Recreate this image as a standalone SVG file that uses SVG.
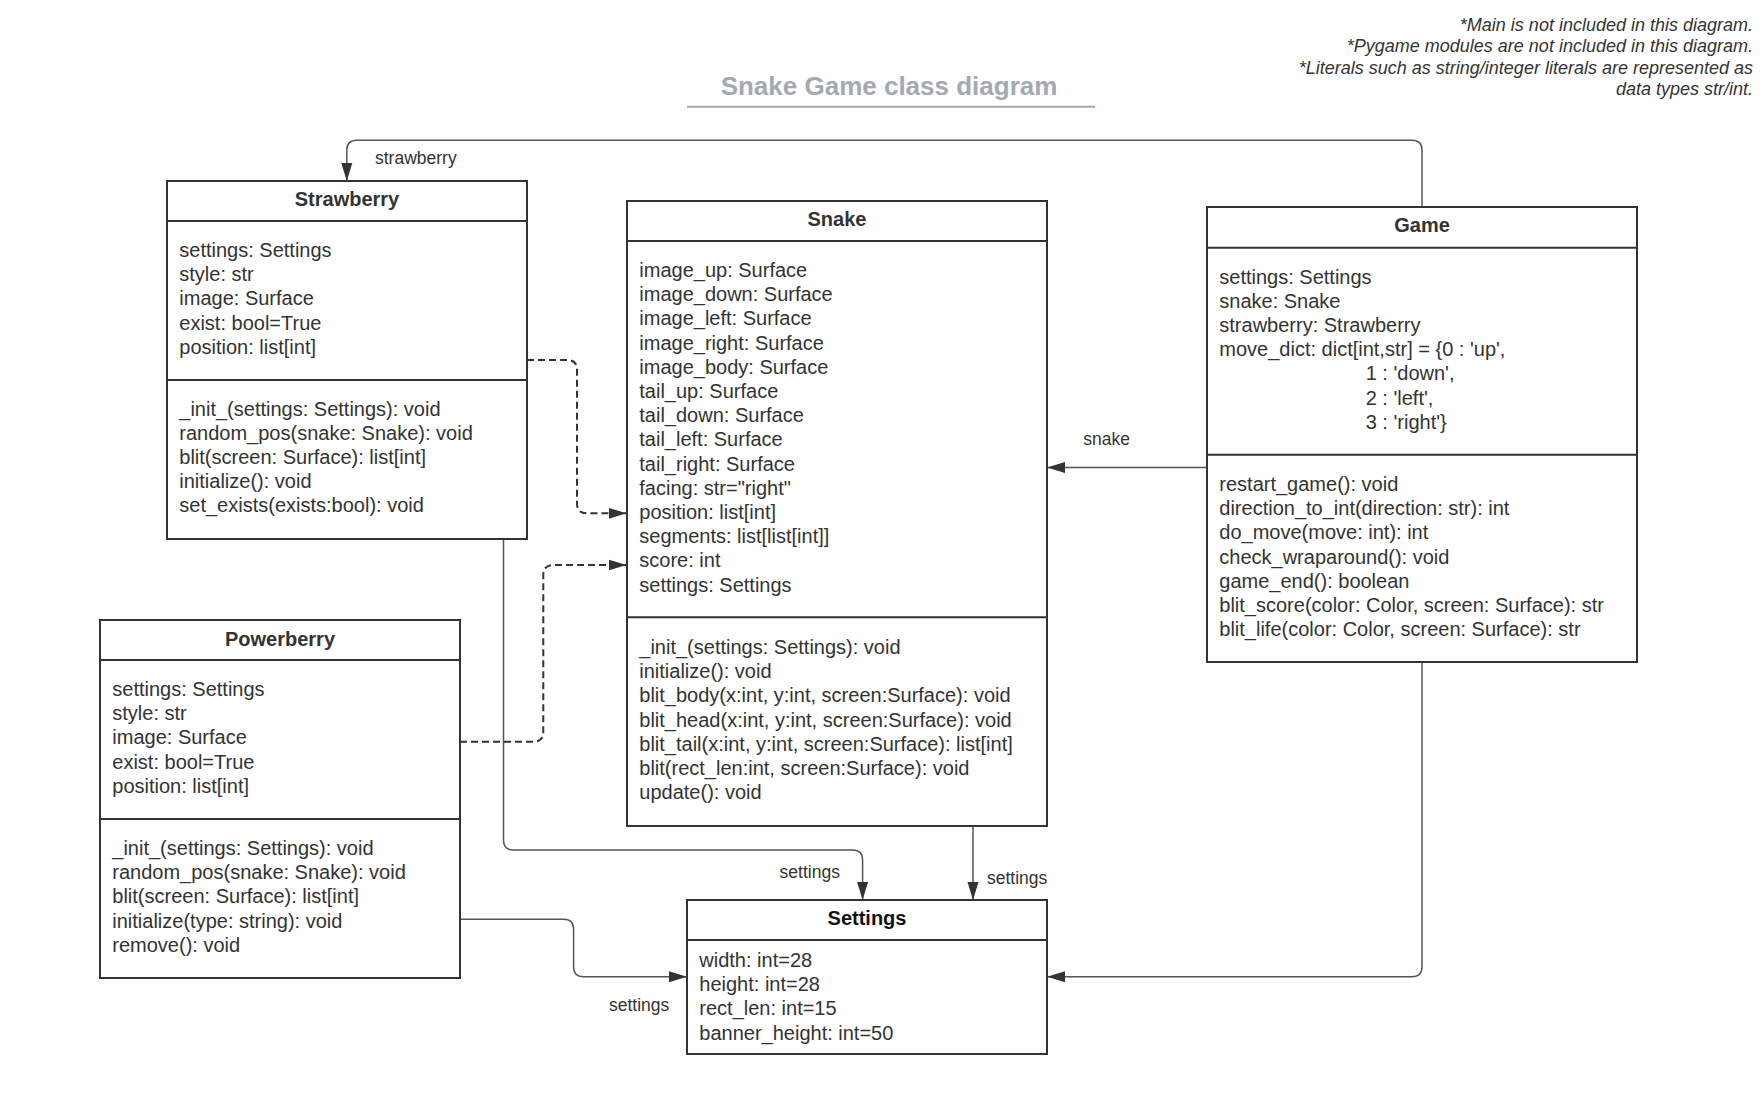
<svg xmlns="http://www.w3.org/2000/svg" width="1760" height="1096" viewBox="0 0 1760 1096">
<style>
.box{fill:#ffffff;stroke:#333333;stroke-width:2}
.sep{stroke:#333333;stroke-width:2}
.hd{font-family:"Liberation Sans",Arial,sans-serif;font-size:20px;font-weight:bold;fill:#333333;text-anchor:middle}
.tx{font-family:"Liberation Sans",Arial,sans-serif;font-size:20px;fill:#333333}
.lb{font-family:"Liberation Sans",Arial,sans-serif;font-size:17.5px;fill:#333333}
.note{font-family:"Liberation Sans",Arial,sans-serif;font-size:18px;font-style:italic;fill:#333333;text-anchor:end}
.sol{fill:none;stroke:#555555;stroke-width:1.5}
.dash{fill:none;stroke:#333333;stroke-width:2;stroke-dasharray:7 4}
</style>
<defs>
<marker id="arr" markerUnits="userSpaceOnUse" markerWidth="18" markerHeight="12" refX="18" refY="6" orient="auto">
<path d="M0,0.5 L18,6 L0,11.5 z" fill="#333333"/>
</marker>
</defs>
<rect width="1760" height="1096" fill="#ffffff"/>

<g id="title">
<text x="889" y="95" font-family="'Liberation Sans',Arial,sans-serif" font-size="26" font-weight="bold" fill="#a3a9b3" text-anchor="middle">Snake Game class diagram</text>
<line x1="687" y1="106.7" x2="1095" y2="106.7" stroke="#a3a9b3" stroke-width="2"/>
</g>

<g id="notes">
<text class="note" x="1753" y="30.5">*Main is not included in this diagram.</text>
<text class="note" x="1753" y="52.1">*Pygame modules are not included in this diagram.</text>
<text class="note" x="1753" y="73.7">*Literals such as string/integer literals are represented as</text>
<text class="note" x="1753" y="95.3">data types str/int.</text>
</g>

<g id="connectors">
<path class="sol" d="M1422,207 V150.3 Q1422,140.3 1412,140.3 H356.8 Q346.8,140.3 346.8,150.3 V181" marker-end="url(#arr)"/>
<path class="sol" d="M1207,467.5 H1047" marker-end="url(#arr)"/>
<path class="dash" d="M527,360 H567 Q577,360 577,370 V503.3 Q577,513.3 587,513.3 H626.5" marker-end="url(#arr)"/>
<path class="dash" d="M460,741.7 H533.3 Q543.3,741.7 543.3,731.7 V575 Q543.3,565 553.3,565 H626.5" marker-end="url(#arr)"/>
<path class="sol" d="M503.5,539 V840 Q503.5,850 513.5,850 H852.6 Q862.6,850 862.6,860 V900" marker-end="url(#arr)"/>
<path class="sol" d="M973,826 V900" marker-end="url(#arr)"/>
<path class="sol" d="M460,919.3 H563.6 Q573.6,919.3 573.6,929.3 V966.7 Q573.6,976.7 583.6,976.7 H687" marker-end="url(#arr)"/>
<path class="sol" d="M1422,662 V966.7 Q1422,976.7 1412,976.7 H1047" marker-end="url(#arr)"/>
<text class="lb" x="375" y="164">strawberry</text>
<text class="lb" x="1083.3" y="445">snake</text>
<text class="lb" x="779.6" y="877.5">settings</text>
<text class="lb" x="987" y="883.5">settings</text>
<text class="lb" x="609" y="1011">settings</text>
</g>

<g id="strawberry">
<rect class="box" x="167" y="181" width="360" height="358"/>
<line class="sep" x1="167" y1="221" x2="527" y2="221"/>
<line class="sep" x1="167" y1="380" x2="527" y2="380"/>
<text class="hd" x="347" y="206">Strawberry</text>
<text class="tx"><tspan x="179.3" y="257">settings: Settings</tspan><tspan x="179.3" dy="24.2">style: str</tspan><tspan x="179.3" dy="24.2">image: Surface</tspan><tspan x="179.3" dy="24.2">exist: bool=True</tspan><tspan x="179.3" dy="24.2">position: list[int]</tspan></text>
<text class="tx"><tspan x="179.3" y="415.5">_init_(settings: Settings): void</tspan><tspan x="179.3" dy="24.2">random_pos(snake: Snake): void</tspan><tspan x="179.3" dy="24.2">blit(screen: Surface): list[int]</tspan><tspan x="179.3" dy="24.2">initialize(): void</tspan><tspan x="179.3" dy="24.2">set_exists(exists:bool): void</tspan></text>
</g>

<g id="snake">
<rect class="box" x="627" y="201" width="420" height="625"/>
<line class="sep" x1="627" y1="241" x2="1047" y2="241"/>
<line class="sep" x1="627" y1="617.3" x2="1047" y2="617.3"/>
<text class="hd" x="837" y="226">Snake</text>
<text class="tx"><tspan x="639.3" y="277">image_up: Surface</tspan><tspan x="639.3" dy="24.2">image_down: Surface</tspan><tspan x="639.3" dy="24.2">image_left: Surface</tspan><tspan x="639.3" dy="24.2">image_right: Surface</tspan><tspan x="639.3" dy="24.2">image_body: Surface</tspan><tspan x="639.3" dy="24.2">tail_up: Surface</tspan><tspan x="639.3" dy="24.2">tail_down: Surface</tspan><tspan x="639.3" dy="24.2">tail_left: Surface</tspan><tspan x="639.3" dy="24.2">tail_right: Surface</tspan><tspan x="639.3" dy="24.2">facing: str="right"</tspan><tspan x="639.3" dy="24.2">position: list[int]</tspan><tspan x="639.3" dy="24.2">segments: list[list[int]]</tspan><tspan x="639.3" dy="24.2">score: int</tspan><tspan x="639.3" dy="24.2">settings: Settings</tspan></text>
<text class="tx"><tspan x="639.3" y="654">_init_(settings: Settings): void</tspan><tspan x="639.3" dy="24.2">initialize(): void</tspan><tspan x="639.3" dy="24.2">blit_body(x:int, y:int, screen:Surface): void</tspan><tspan x="639.3" dy="24.2">blit_head(x:int, y:int, screen:Surface): void</tspan><tspan x="639.3" dy="24.2">blit_tail(x:int, y:int, screen:Surface): list[int]</tspan><tspan x="639.3" dy="24.2">blit(rect_len:int, screen:Surface): void</tspan><tspan x="639.3" dy="24.2">update(): void</tspan></text>
</g>

<g id="game">
<rect class="box" x="1207" y="207" width="430" height="455"/>
<line class="sep" x1="1207" y1="247.7" x2="1637" y2="247.7"/>
<line class="sep" x1="1207" y1="454.7" x2="1637" y2="454.7"/>
<text class="hd" x="1422" y="232.3">Game</text>
<text class="tx"><tspan x="1219.3" y="283.5">settings: Settings</tspan><tspan x="1219.3" dy="24.2">snake: Snake</tspan><tspan x="1219.3" dy="24.2">strawberry: Strawberry</tspan><tspan x="1219.3" dy="24.2">move_dict: dict[int,str] = {0 : 'up',</tspan><tspan x="1365.7" dy="24.2">1 : 'down',</tspan><tspan x="1365.7" dy="24.2">2 : 'left',</tspan><tspan x="1365.7" dy="24.2">3 : 'right'}</tspan></text>
<text class="tx"><tspan x="1219.3" y="491">restart_game(): void</tspan><tspan x="1219.3" dy="24.2">direction_to_int(direction: str): int</tspan><tspan x="1219.3" dy="24.2">do_move(move: int): int</tspan><tspan x="1219.3" dy="24.2">check_wraparound(): void</tspan><tspan x="1219.3" dy="24.2">game_end(): boolean</tspan><tspan x="1219.3" dy="24.2">blit_score(color: Color, screen: Surface): str</tspan><tspan x="1219.3" dy="24.2">blit_life(color: Color, screen: Surface): str</tspan></text>
</g>

<g id="powerberry">
<rect class="box" x="100" y="620" width="360" height="358"/>
<line class="sep" x1="100" y1="660" x2="460" y2="660"/>
<line class="sep" x1="100" y1="819" x2="460" y2="819"/>
<text class="hd" x="280" y="645.5">Powerberry</text>
<text class="tx"><tspan x="112.3" y="696">settings: Settings</tspan><tspan x="112.3" dy="24.2">style: str</tspan><tspan x="112.3" dy="24.2">image: Surface</tspan><tspan x="112.3" dy="24.2">exist: bool=True</tspan><tspan x="112.3" dy="24.2">position: list[int]</tspan></text>
<text class="tx"><tspan x="112.3" y="855">_init_(settings: Settings): void</tspan><tspan x="112.3" dy="24.2">random_pos(snake: Snake): void</tspan><tspan x="112.3" dy="24.2">blit(screen: Surface): list[int]</tspan><tspan x="112.3" dy="24.2">initialize(type: string): void</tspan><tspan x="112.3" dy="24.2">remove(): void</tspan></text>
</g>

<g id="settings">
<rect class="box" x="687" y="900" width="360" height="154"/>
<line class="sep" x1="687" y1="940" x2="1047" y2="940"/>
<text class="hd" x="867" y="925" style="fill:#111111">Settings</text>
<text class="tx"><tspan x="699.3" y="967">width: int=28</tspan><tspan x="699.3" dy="24.2">height: int=28</tspan><tspan x="699.3" dy="24.2">rect_len: int=15</tspan><tspan x="699.3" dy="24.2">banner_height: int=50</tspan></text>
</g>
</svg>
